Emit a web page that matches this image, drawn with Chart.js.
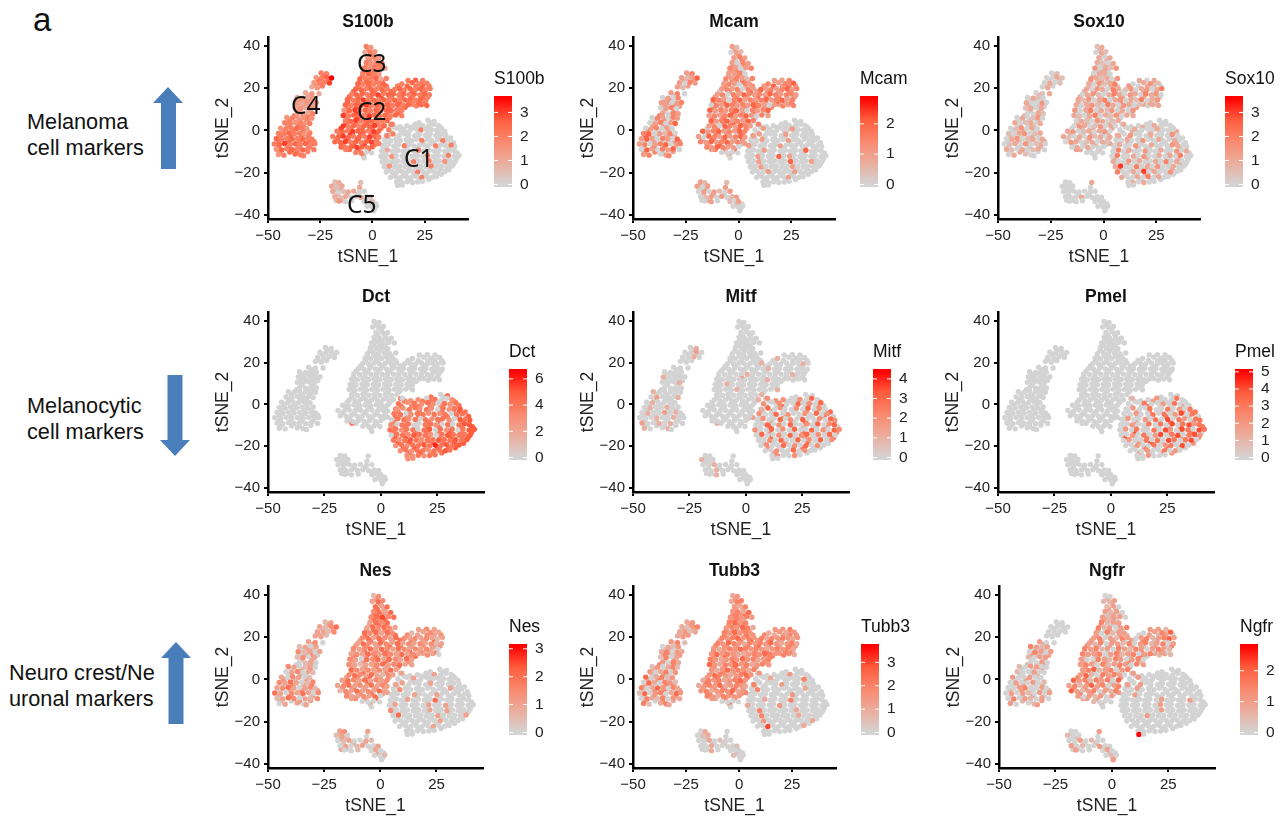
<!DOCTYPE html>
<html>
<head>
<meta charset="utf-8">
<title>tSNE marker panels</title>
<script src="https://cdn.jsdelivr.net/npm/chart.js@4/dist/chart.umd.js"></script>
<style>
  html, body { margin: 0; padding: 0; background: #fff; }
  #page { position: relative; width: 1280px; height: 821px; overflow: hidden; font-family: "Liberation Sans", sans-serif; color: #111; }
  #page canvas { position: absolute; }
  .note { position: absolute; font-size: 21.7px; line-height: 26px; white-space: nowrap; }
  .tag { position: absolute; font-family: "Noto Sans", sans-serif; font-size: 24.5px; line-height: 26px; color: #111; }
  #arrows { position: absolute; left: 0; top: 0; }
</style>
</head>
<body>
<div id="page">
  <svg id="arrows" width="200" height="821">
    <polygon fill="#4a7ebb" points="168,87 183,103 176,103 176,169 161,169 161,103 153,103"/>
    <polygon fill="#4a7ebb" points="175,456 190,440 182.5,440 182.5,375 167.5,375 167.5,440 160,440"/>
    <polygon fill="#4a7ebb" points="176,642 191,658 183.5,658 183.5,724 168.5,724 168.5,658 161,658"/>
  </svg>
  <div class="note" style="left:33px;top:0;font-size:33px;line-height:40px">a</div>
  <div class="note" style="left:27px;top:109px">Melanoma<br>cell markers</div>
  <div class="note" style="left:27px;top:393px">Melanocytic<br>cell markers</div>
  <div class="note" style="left:9px;top:660px">Neuro crest/Ne<br>uronal markers</div>
</div>
<script>
"use strict";

/* tSNE coordinates, one list per cluster (C3 sits on top of C2) */
var c1Points = [[26.5,4.8],[29.5,4.2],
[8.8,2.8],[16.5,2.2],[20.3,3],[24,2.4],[26.8,2.1],[29.2,2.9],[31.5,2.3],
[7.8,0.3],[11.7,1],[14.8,0.6],[18,0.1],[20.6,0.9],[23.2,0.2],[25.4,0.7],[28.2,0.4],[30.6,0.1],[33.2,0.8],
[6.6,-2.2],[9.8,-1.7],[12.7,-2.4],[15.2,-1.6],[17.3,-2.1],[20.2,-2.5],[22.4,-1.8],[25.2,-2.3],[27.6,-1.7],[30.3,-2.4],[32.6,-1.9],[35.1,-2.3],
[5.8,-4.4],[8.7,-4.9],[11.2,-4.2],[13.4,-4.8],[16.2,-4.3],[18.7,-4.9],[21.1,-4.2],[23.6,-4.7],[26.2,-4.3],[28.4,-4.8],[31.2,-4.2],[33.6,-4.9],[36.2,-4.5],
[4.8,-7.1],[7.6,-6.7],[10.2,-7.3],[12.4,-6.8],[15.2,-7.2],[17.6,-6.7],[19.8,-7.3],[22.6,-6.9],[25.2,-7.2],[27.4,-6.7],[30.2,-7.3],[32.6,-6.8],[35.1,-7.2],[37.6,-6.9],
[4.4,-9.7],[7.2,-9.3],[9.4,-9.8],[12.2,-9.4],[14.6,-9.8],[16.9,-9.3],[19.7,-9.7],[22.1,-9.4],[24.4,-9.8],[27.2,-9.3],[29.6,-9.7],[31.9,-9.4],[34.6,-9.8],[37.1,-9.3],[39.2,-9.7],
[4,-12.2],[6.6,-11.8],[9.2,-12.3],[11.4,-11.9],[14.2,-12.2],[16.4,-11.8],[19.1,-12.3],[21.6,-11.9],[24.2,-12.2],[26.4,-11.8],[29.1,-12.3],[31.6,-11.9],[34.2,-12.2],[36.4,-11.8],[39.1,-12.3],[41.4,-11.9],
[4.6,-14.7],[7.1,-14.3],[9.6,-14.8],[12.1,-14.4],[14.6,-14.7],[17.1,-14.3],[19.6,-14.8],[22.1,-14.4],[24.6,-14.7],[27.1,-14.3],[29.6,-14.8],[32.1,-14.4],[34.6,-14.7],[37.1,-14.3],[39.5,-14.7],
[5.6,-17.2],[8.1,-16.8],[10.6,-17.3],[13.1,-16.9],[15.6,-17.2],[18.1,-16.8],[20.6,-17.3],[23.1,-16.9],[25.6,-17.2],[28.1,-16.8],[30.6,-17.3],[33.1,-16.9],[35.6,-17.2],[38.1,-16.8],
[6.6,-19.7],[9.1,-19.3],[11.6,-19.8],[14.1,-19.4],[16.6,-19.7],[19.1,-19.3],[21.6,-19.8],[24.1,-19.4],[26.6,-19.7],[29.1,-19.3],[31.6,-19.8],[34.6,-19.4],
[8.6,-22.2],[11.1,-21.8],[13.6,-22.3],[16.1,-21.9],[18.6,-22.2],[21.1,-21.8],[23.6,-22.3],[26.1,-21.9],[28.6,-22.2],[30.6,-21.8],
[11.6,-24.4],[14.1,-24.7],[16.6,-24.3],[19.1,-24.6],[21.6,-24.4],[24,-24.1],
[12,-26],[14.2,-25.8]];

var c2Points = [[-12.8,-9],[-2,12.8],[3,-6.2],[7,-2.5],[9.5,3],[14,7],
[-3,39.7],[-0.8,39.2],
[-3.6,37],[-1,36.8],[1.1,37.3],
[-2.2,34.4],[0.6,34.8],[3,34.3],
[-3,32.2],[-0.6,31.8],[2.1,32.1],[4.6,31.7],
[-4.1,29.4],[-1.4,29.8],[1,29.3],[3.6,29.7],[6,29.4],
[-4.6,27.2],[-2,26.8],[0.6,27.1],[3.1,26.7],
[-6,24.3],[-3.4,24.8],[-1.1,24.4],[1.6,24.7],[4,24.3],[6.6,24.6],
[-7,22.1],[-4.6,21.8],[-2.1,22.3],[0.4,21.9],[3.1,22.2],[5.4,21.8],[14,22],[19,22.6],[22.2,22.1],[26,22.4],
[-8,19.6],[-5.4,19.3],[-3,19.8],[-0.6,19.4],[2,19.7],[4.6,19.3],[7,19.8],[10.6,19.4],[13,19.7],[15.4,19.3],[18,19.8],[20.6,19.4],[23,19.7],[25.4,19.3],[27.6,19.8],
[-10,17.1],[-7.6,16.8],[-5,17.3],[-2.4,16.9],[0,17.2],[2.6,16.8],[5,17.3],[7.6,16.9],[10,17.2],[12.6,16.8],[15,17.3],[17.6,16.9],[20,17.2],[22.6,16.8],[25,17.3],[27.2,16.9],
[-12,14.6],[-9.4,14.3],[-7,14.8],[-4.4,14.4],[-2,14.7],[0.6,14.3],[3,14.8],[5.6,14.4],[8,14.7],[10.6,14.3],[13,14.8],[15.6,14.4],[18,14.7],[20.6,14.3],[23,14.8],[25.6,14.4],
[-13,12.1],[-10.4,11.8],[-8,12.3],[-5.4,11.9],[-3,12.2],[-0.4,11.8],[2,12.3],[4.6,11.9],[7,12.2],[9.6,11.8],[12,12.3],[14.6,11.9],[17,12.2],[26,11.8],
[-13.6,9.6],[-11,9.3],[-8.4,9.8],[-6,9.4],[-3.4,9.7],[-1,9.3],[1.6,9.8],[4,9.4],[6.6,9.7],[9,9.3],[11.6,9.8],[14,9.4],
[-14,7.1],[-11.4,6.8],[-9,7.3],[-6.4,6.9],[-4,7.2],[-1.4,6.8],[1,7.3],[3.6,6.9],[6,7.2],[8.6,6.8],[11,7.3],
[-13,4.6],[-10.4,4.3],[-8,4.8],[-5.4,4.4],[-3,4.7],[-0.4,4.3],[2,4.8],[4.6,4.4],[7,4.7],
[-14,2.1],[-11.4,1.8],[-9,2.3],[-6.4,1.9],[-4,2.2],[-1.4,1.8],[1,2.3],[3.6,1.9],[5.6,2.2],
[-17,-0.4],[-14.4,-0.7],[-12,-0.2],[-9.4,-0.6],[-7,-0.3],[-4.4,-0.7],[-2,-0.2],[0.6,-0.6],[3,-0.3],
[-19,-2.9],[-16.4,-3.2],[-14,-2.7],[-11.4,-3.1],[-9,-2.8],[-6.4,-3.2],[-4,-2.7],[-1.4,-3.1],[1,-2.8],[3,-3.2],
[-18,-5.4],[-15.4,-5.7],[-13,-5.2],[-10.4,-5.6],[-8,-5.3],[-5.4,-5.7],[-3,-5.2],[-0.4,-5.6],[1.8,-5.3],
[-15,-7.9],[-12.4,-8.2],[-10,-7.7],[-7.4,-8.1],[-5,-7.8],[-2.4,-8.2],[0,-7.7],
[-8,-10.4],[-5.4,-10.7],[-3,-10.2],[-0.4,-10.6],
[-4,-13]];

var c4Points = [[-24.6,27.2],[-22,26.8],
[-27,25],[-24.4,24.7],[-22,25.2],[-19.6,24.8],
[-28,22.6],[-25.4,22.3],[-23,22.8],[-20.6,22.4],
[-29,20.6],[-26.4,20.2],
[-25.6,17.4],[-32,17.8],[-29,17.4],
[-36,15.6],[-33.4,15.3],[-31,15.8],[-28.6,15.4],
[-36.6,13.1],[-34,12.8],[-31.4,13.3],[-29,12.9],[-27,13.2],
[-37,10.6],[-34.4,10.3],[-32,10.8],[-29.4,10.4],
[-36,8.1],[-33.4,7.8],[-31,8.3],[-28.6,7.9],
[-41,6.1],[-38.4,5.8],[-36,6.3],[-33.4,5.9],[-31,6.2],[-29,5.8],
[-42,3.6],[-39.4,3.3],[-37,3.8],[-34.4,3.4],[-32,3.7],[-30,3.3],
[-44,1.1],[-41.4,0.8],[-39,1.3],[-36.4,0.9],[-34,1.2],[-31.4,0.8],
[-45,-1.4],[-42.4,-1.7],[-40,-1.2],[-37.4,-1.6],[-35,-1.3],[-32.4,-1.7],[-30,-1.2],
[-46,-3.9],[-43.4,-4.2],[-41,-3.7],[-38.4,-4.1],[-36,-3.8],[-33.4,-4.2],[-31,-3.7],[-29,-4.1],
[-47,-6.4],[-44.4,-6.7],[-42,-6.2],[-39.4,-6.6],[-37,-6.3],[-34.4,-6.7],[-32,-6.2],[-29.4,-6.6],[-27.6,-6.3],
[-46,-8.9],[-43.4,-9.2],[-41,-8.7],[-38.4,-9.1],[-36,-8.8],[-33.4,-9.2],[-31,-8.7],[-28,-9.1],
[-45,-11.4],[-42.4,-11.7],[-37,-11.2],[-34.4,-11.6],[-33,-12]];

var c5Points = [[-18,-24.4],[-16,-24.7],
[-19.6,-26.4],[-17,-26.7],[-14.6,-26.3],[-5.6,-24.6],
[-19,-28.9],[-16.4,-29.2],[-14,-28.8],[-11.6,-29.1],[-9,-28.7],[-6.4,-29.2],[-4,-28.8],
[-18,-31.4],[-15.4,-31.7],[-13,-31.3],[-10.4,-31.6],[-8,-31.2],[-5.4,-31.7],[-3,-31.3],[-1,-31.6],
[-16,-33.4],[-13,-33.7],[-10,-33.3],[-4,-33.6],[-2,-33.2],[0,-33.6],
[-2.6,-35.9],[0,-36.2],[2,-35.8],
[0.6,-38]];

/* the cells packed in between, drawn underneath */
var c1Under = [[22.2,3.6],[27.9,3.5],[10.4,1.6],[13.2,1.8],[18.6,1.5],[22,1.4],[27,1.2],[32.4,1.7],
[9,-0.9],[13.6,-0.7],[16.4,-1],[21.8,-0.8],[26.6,-1],[31.6,-0.7],[34.6,-0.5],
[7.6,-3.4],[12,-3.3],[17,-3.5],[22,-3.2],[27,-3.4],[32,-3.3],[34.8,-3.6],[37.4,-3.6],
[6.4,-5.9],[11.6,-5.7],[16.8,-6],[24.4,-5.8],[29.4,-5.9],[34.6,-5.7],[38.8,-5.8],
[6,-8.4],[11.2,-8.2],[16.4,-8.5],[21.2,-8.3],[26.4,-8.4],[31.2,-8.2],[36.4,-8.5],[39.4,-7.6],
[5.6,-10.9],[10.6,-10.7],[15.8,-11],[20.8,-10.8],[25.8,-10.9],[30.8,-10.7],[35.8,-11],[40.6,-10.7],
[5.4,-13.4],[10.4,-13.2],[15.4,-13.5],[20.4,-13.3],[25.4,-13.4],[30.4,-13.2],[35.4,-13.5],[40.2,-13.4],
[6,-15.9],[11,-15.7],[16,-16],[21,-15.8],[26,-15.9],[31,-15.7],[36,-16],[38.8,-15.8],
[7.6,-18.4],[12.6,-18.2],[17.6,-18.5],[22.6,-18.3],[27.6,-18.4],[32.6,-18.2],[36.6,-18.6],
[10,-20.9],[15,-20.7],[20,-21],[25,-20.8],[30,-20.9],[33,-20.7],
[12.6,-23.2],[17.6,-23],[22.6,-23.3],[27,-23.2]];

var c2Under = [[19,12.4],[21,11.6],[23.4,12.2],[25,13],[17,23.6],[20.6,23.8],[24,23.6],
[-1.8,38],[0,35.8],[-1.4,33.2],[1.6,33.4],[-2.8,30.8],[0.4,30.6],[2.8,30.9],[-3,28.2],[-0.6,28.4],[2,28.1],
[-4.8,25.8],[-0.6,25.7],[2.4,25.9],[-6,23.2],[-3,23.4],[-0.8,23],[2,23.2],[4.6,23],
[-6.8,20.8],[-1.8,20.9],[3.4,20.7],[6.6,20.9],[12,21],[16.6,21],[20.8,20.9],[24,21.2],[27,21],
[-9,18.4],[-4.4,18.2],[0.8,18.4],[5.6,18.2],[8.8,18.4],[13.8,18.2],[19,18.4],[24,18.2],
[-11,15.9],[-6,15.7],[-1,16],[4,15.7],[9,15.9],[14,15.7],[19,16],[24,15.7],[26.5,15.8],
[-12,13.4],[-7,13.2],[-2,13.5],[3,13.2],[8,13.4],[13,13.2],[18,13.5],[22,13],
[-12,10.9],[-7,10.7],[-2,11],[3,10.7],[8,10.9],[13,10.7],[15.6,11],
[-12.6,8.4],[-7.6,8.2],[-2.6,8.5],[2.4,8.2],[7.4,8.4],[12.4,8.2],
[-12,5.9],[-7,5.7],[-2,6],[3,5.7],[8,5.9],
[-12.6,3.4],[-7.6,3.2],[-2.6,3.5],[2.4,3.2],
[-15,0.9],[-10,0.7],[-5,1],[0,0.7],[4,1],
[-15.6,-1.6],[-10.6,-1.8],[-5.6,-1.5],[-0.6,-1.8],[2,-1.6],
[-17,-4.1],[-12,-4.3],[-7,-4],[-2,-4.3],[2,-4.2],
[-14,-6.6],[-9,-6.8],[-4,-6.5],[1,-6.8],
[-11,-9],[-6.5,-9.2],[-2,-9],[-4.4,-11.6]];

var c4Under = [[-23.4,26],[-25.8,23.8],[-21,23.6],[-27.8,21.4],[-24,21],[-30.4,16.6],[-34.8,14.2],[-32.2,14.4],[-30,14],
[-35.6,11.8],[-33,11.6],[-30.4,11.8],[-28,11.4],[-35,9.4],[-30.4,9.2],[-37.4,7],[-32.4,7],[-29.8,6.8],
[-39.8,4.8],[-35,4.6],[-31.2,4.8],[-40.6,2.2],[-35.6,2.4],[-33,2.1],[-43,0],[-38,-0.2],[-33,0],
[-44,-2.6],[-39,-2.8],[-34,-2.6],[-30.6,-2.8],[-45,-5.2],[-40,-5.4],[-35,-5.2],[-30,-5.4],[-28,-5.2],
[-45,-7.8],[-40,-7.9],[-35,-7.7],[-30,-7.9],[-44.6,-10.4],[-39.6,-10.2],[-36,-10.4],[-31,-10]];

var c5Under = [[-17.6,-28],[-15.4,-28],[-18,-25.8],[-16.6,-30.4],[-12,-30.2],[-7,-30.2],[-3.6,-32.4],[-1,-33],[-1,-35],[1,-37],[-6.2,-27],[-17.4,-33],[-15,-33],[1.6,-34.8]];

/* expression per gene: one list per point list, in the order above (missing = 0) */
var s100b = [
[0,0,2,0,0,0,0,0,0,2,0,0,0,0,2,0,0,0,0,0,2,0,0,0,0,0,0,0,0,0,0,0,0,0,0,0,0,0,2,0,0,0,2,0,0,0,0,0,2,0,0,0,0,0,2,0,0,2,0,1,0,0,0,0,0,2,0,0,0,0,0,0,0,0,0,1.5,0,0,0,0,0,0,2,0,0,0,2,0,0,0,0,0,0,0,0,2,0,0,2,0,0,1.5,0,0,0,1.5,0,0,0,0,0,0,0,2,0,0,0,0,0,0,0,0,0,0,2,0,0,0,0,0,0,0,0,0,0,0,2,0,0,0,0,0,0,0,0,0,0,0],
[2,2,2,2,2,2,2,1.5,1,2,1.5,1.5,2,1.5,2,1.5,2,2,2,1.5,2,2,1,2,2.5,2,1.5,2.5,2,2,2.5,1,2,2.5,2,2.5,2,2,2.5,2,2.5,2,2,2.5,2.5,2,2.5,2,2.5,2,2,2.5,2,2.5,2,2.5,2,2,2,2.5,2.5,2,2.5,3,2,2.5,2.5,2,2.5,2,2.5,2,2.5,2,2.5,2,2.5,3,2,2.5,2,2.5,2,2.5,2,2.5,2.5,2,2.5,2,2.5,2,2.5,2.5,3,2,2.5,2,2.5,2,2.5,2,2.5,2.5,1.5,2.5,3,2,2.5,2,2.5,2,2.5,2.5,2,2,3,2,2.5,2.5,2,3,2.5,2,2.5,2,2.5,2,2.5,3,2,2.5,2.5,2,2,2.5,3,2,2.5,2,2.5,2.5,3,2,2.5,2,2.5,2,3,2.5,2.5,2,3,2.5,2,2.5,3,2.5,2,2.5,2,3,2.5,2,2.5,2.5,3,2,2.5,2,2.5,3,2,2.5,2,2.5,3,2.5,2,2.5,2,2],
[2,2,1.5,2,2.5,3.6,1.5,2,2,3,1,1.5,1,1,1.5,1,1.5,1,1.5,1.5,1,1.5,1,1.5,1,1.5,1,1.5,1,1.5,1,2,1.5,2,1.5,1.5,2,1.5,2,2,1.5,2,1.5,2,1.5,2,2,2.5,2,1.5,2,2,2.5,2,2,1.5,2,2.5,2,2,2.5,2,2.5,2,2,2,2.5,3,2,2.5,2,2.5,2,2,1.5,2.5,2,2.5,2,2.5,2,2,1.5,2,2.5,2,2,2],
[0.5,1,1,0.5,1,0.5,1,0,0.5,1,1,0,0,1,0.5,1,0,0,1,0,0.5,1.5,0,0,0,0,0.5,0,0,0,0],
[],
[2,2,2.5,2,2,2.5,2,2,1.5,2,1.5,2,2,2,2,2,2.5,2,2,2.5,2,2.5,2,2,2.5,2,2.5,2,2.5,2,2.5,2,2.5,2,2.5,2,2.5,2,2.5,2,2.5,2,2.5,2,2.5,3,2,2.5,2,2.5,2,2.5,2,2.5,3,2,2.5,2,2.5,2,2.5,2,2,2.5,2,2.5,2,3,2,2.5,2,2.5,2,3,2,2.5,2,2.5,2,2.5,2,3,2,2.5,2,2.5,2,3,2.5,2,2.5,2,2.5,3,2,2.5,2,2.5,3,2,2.5,2,2.5,2,2.5],
[2,2.5,2,1.5,2,1,1.5,1,1.5,1,1.5,1,1.5,1.5,1,2,1.5,1.5,2,1.5,2,1.5,2,2,1.5,2,2,2,2.5,2,2,2,2.5,2,2.5,2,2,2.5,2,2,2,2.5,2,2],
[0.5,1,0.5,1,0.5,0.5,0,0,0,0,1,0.5,1,0]];

var mcam = [
[0,0,0,0,0,0,0,0,0,0,1,0,0,0,0,1,0,0,0,0,1,0,0,0,0,1,0,0,0,0,0,0,0,1,0,0,0,0,1,0,0,0,0,0,1,0,0,0,0,0,1,0,0,0,0,0,0,0,0,0,0,1,0,0,0,0,0,0,0,2,0,0,0,0,0,1,0,0,0,2,0,1,0,0,0,0,0,0,0,0,0,1,0,0,0,0,0,2,0,0,0,1,0,0,0,0,1,0,0,0,0,0,1,0,0,0,0,0,0,0,0,1,0,0,0,0,1,0,0,0,0,0,0,0,0,0,1,0,0,0,0,0,0,0,0,0,0,0],
[1,1.5,1,1,1.5,1,1,0.5,0,1,0.5,1,1.5,1,1,0,1.5,1,1.5,1,0,1,1.5,1,1,1.5,0,1.5,1,1.5,1,0.5,1.5,1,1.5,1,0,1.5,1,1.5,1,1.5,2,1,1.5,1,1.5,0,1.5,1,2,1,1.5,1,1.5,2,1,1.5,1,1.5,0,1.5,1,2,1.5,1,1.5,1,2,1.5,1,1.5,1.5,1,2,1.5,1,0,1.5,2,1,1.5,1,1.5,2,1,1.5,2,1,1.5,0,1.5,1,2,1.5,1,1.5,1,2,1.5,1,0,1,1.5,2,1,1.5,1,1.5,2,1,0,1.5,1,1.5,2,1,1.5,1,1.5,2,1,1.5,2,1,0,1.5,2,1,1.5,2,1,1.5,1,2,1.5,1,1.5,0,2,1.5,1,2,1.5,1,2,1,1.5,2,1,1.5,1,2,1.5,1,0,2,1.5,1,2,1,1.5,2,1,1.5,1,2,1,1.5,2,1,1.5,1,1.5,1,2,1.5,1,1],
[1,1.5,1,0.5,1,2,1,0,1.5,1,1,0.5,0,1,1.5,0,1,0,1.5,1,1,0,1,1.5,0,1,1.5,0,1,0,1.5,1,0,1.5,1,0,1.5,1,0,1,1.5,0,1,2,0,1,1.5,0,1,0,1.5,2,0,1,0.5,1.5,0,1,2,1,0,1.5,1,0,2,1,1.5,0,1,1.5,2,0,1,1.5,0,2,1,0,1.5,1,2,0,1,1.5,0,1,1.5],
[1,0.5,1,0,1,0.5,0,1,0,1,0.5,0,1,0,0.5,1,0,1,0,0.5,1,0,1,0,0.5,0,1,0,0,0,0],
[],
[1,1.5,1,1.5,1,1,1.5,1,1,0,1.5,1,0,1.5,1,1.5,0,1,1.5,1,0,1.5,1,2,1,1.5,0,1,1.5,1,2,1,1.5,1,0,1.5,1,2,1,1.5,1,1.5,1,0,1.5,1,2,1,1.5,0,1,1.5,2,1,0,1.5,1,2,1,1.5,0,1,1.5,2,1,1.5,0,1,2,1,1.5,0,1,2,1.5,1,0,1,1.5,2,1,0,1.5,1,2,1,0,1.5,1,0,1.5,1,2,1,0,1.5,1,2,1,0,1.5,1,2,1,0,1,1.5,1],
[0.5,1,1,0,1,0,1,1.5,0,1,0,1.5,1,0,1,1.5,0,1,0,1.5,0,1,1,0,1.5,0,1,2,0,1,1.5,0,1,0,1.5,1,0,2,1,0,1,1.5,0,1],
[0,1,0.5,0,1,0,0.5,0,0.5,0,1,0,1,0]];

var sox10 = [
[0,0,0,0,0,1,0,0,0,0,0,1,0,0,0,1,0,0,0,1,0,1.5,0,0,0,1,0,0,0,1.5,0,0,0,1,0,0,1.5,0,0,1,0,0,1,0,0,1,0,0,1.5,0,0,1,0,0,0,1.5,1,0,0,2,0,1,0,0,1.5,0,0,1,0,0,1.5,0,1,0,2,0,0,1,0,1.5,0,0,1,0,1,0,2,0,0,1,0,0,1.5,0,1,0,0,1,0,2,0,1,0,0,1,3,0,0,2,0,1,0,1.5,0,0,1,0,0,2,0,0,1,0,3,0,1,0,0,1.5,0,1,0,0,1,0,2,0,1,0,0,0,1,0,1,0,0,0],
[1.5,1,1,1,1,1,0.5,1,0,1,0.5,1,0,1,1,0.5,0,1,1.5,0,1,0.5,1.5,0,1,1,0,1.5,1,0.5,1,0,1.5,1,0,1.5,0.5,1,2,0,1,1.5,0.5,1,0,1.5,1,0,2,1,0.5,1.5,0,1,1.5,0,1,2,0,1,1.5,0.5,0,1,2,1,0,1.5,1,0,2,1,1.5,0,1,0.5,1.5,0,1,2,0,1,1.5,0,1,0.5,2,0,1,1.5,1,0,1,1.5,0.5,0,2,1,0,1.5,1,0,0.5,1,1.5,0,1,2,0,1,0.5,1.5,0,1,0,1.5,1,0.5,0,1,2,0,1,0.5,1.5,0,1,0,1,0.5,0,1.5,1,0,0.5,1,0,1.5,1,0,0.5,1.5,0,1,0,1,1.5,0,0.5,1,0,1,1.5,0,1,0.5,0,1,0,1.5,0.5,1,0,1,0,1.5,1,0,0.5,1,0,1,0.5,0,1,0,1],
[0,0.5,0,0,1,0.5,0,1,0,0.5,0,1,1,0,0.5,0,1,0.5,0,1,0,0,1.5,0,0.5,1,0,1,0,0,1,0.5,0,1,0,0.5,1.5,0,1,0,0.5,1,0,1,0,0.5,1.5,0,1,0,0.5,0,1,1.5,0,0.5,1,0,1,1.5,0,0.5,1,0,1,0,0.5,1,0,1.5,0,0.5,1,0,1,0.5,0,1,0,0.5,1,0,0,1,0.5,0,0],
[0,0,0,0,0,1,0,0,0,0,0,0,0,0,0,0,1,0,0,0,0,0,0,0,0,0,0,0,0,0,0],
[0,0,0,0,1,0,0,0,0,1,0,0,0,0,1,0,0,0,1,0,0,0,0,0,1,0,0,0,1,0,0,0,1,0,0,0,1,0,0,1,0,0,0,1,0,0,1,0,0,1,0,0,1,0,0,1,0,1,0,0,1,0,1,0,0,1,0,1,0,0,0,1,0,0,0,0,0,0,0],
[1,0,1,0.5,1,0,1,0.5,1,0,1,0,1,0.5,0,1,0,1,0.5,0,1,0,1.5,0,1,0.5,0,1,0,1.5,0,1,0.5,0,1,1.5,0,1,0,0.5,1,0,1,0,0.5,1,1.5,0,1,0,0.5,1,0,1,0,1.5,0.5,0,1,0,1,0.5,0,1,0,1.5,0,1,0.5,0,1,0,0.5,1,0,1,0,1,0.5,0,1,0,0.5,1,0,1,0.5,0,1,0,1,0,0.5,1,0,1,0,0.5,1,0,1,0,0.5,0,1,0,1],
[0.5,0,0,0.5,0,1,0,0.5,0,1,0,0.5,0,1,0,0.5,0,1,0,0.5,1,0,0,0.5,0,1,0,0.5,0,1,0,0,1,0.5,0,1,0,0,1,0.5,0,1,0,0],
[]];

var dct = [
[0,4,4,3,0,4,0,0,3,4,3,4,3,4,3,0,4,3,4,4,3,4,4,3,4,3,0,4,3,4,5,4,4,0,3,4,4,3,4,3,4,0,4,4,0,4,4,3,4,0,4,3,4,4,3,0,5,4,3,0,4,4,0,0,4,4,3,0,4,0,4,5,5,4,4,3,4,4,0,4,5,0,4,3,4,0,4,5,5,0,4,4,3,5,4,4,3,0,4,5,4,4,4,5,4,3,4,5,4,3,4,4,5,4,4,5,4,5,3,4,3,4,4,5,4,6,4,5,4,5,3,4,3,4,4,3,4,4,5,4,3,3,4,3,4,4,3,3],
[4,0,0,3,0,0],[],[],
[4,0,4,3,4,4,0,3,4,3,4,4,3,0,4,4,3,4,0,4,4,5,4,4,3,4,0,4,0,5,4,3,0,4,4,0,4,5,3,4,0,4,4,0,4,5,4,3,4,4,4,5,4,5,5,5,3,4,4,5,4,4,5,5,3,4,4,5,5,4,5,3,4,4,5,4,5,3,4,4,4],
[],[],[]];

var mitf = [
[0,0,0,2,0,2,0,3,0,2,0,2,0,0,3,0,2,0,3,0,3,0,2,0,0,2,0,3,0,2,0,2,0,0,3,0,2,0,0,2,0,3,0,2,0,2,0,0,3,0,2,0,3,0,0,2,0,3,0,0,3,0,2,0,3,0,0,2,0,3,0,2,3,2,0,0,3,0,2,0,3,0,0,3,0,2,0,3,2,0,3,0,0,2,0,3,0,2,3,0,2,0,3,0,0,0,2,0,3,0,0,3,0,2,0,3,0,2,0,2,0,0,3,0,2,0,3,0,2,0,0,0,2,0,0,3,0,2,0,0,0,2,0,0,2,0,0,0],
[1,2,1.5,1,2,1,0,0,0,0,0,0,0,0,0,0,0,0,0,0,0,0,0,0,0,0,0,0,0,0,0,0,0,0,0,0,0,0,0,1,0,0,0,0,0,0,0,0,0,1,0,0,0,0,0,0,1,0,0,0,0,0,0,0,0,0,1,0,0,0,0,0,0,0,0,0,0,0,0,1,0,0,0,0,0,0,0,1,0,0,0,0,0,0,0,0,0,0,0,1,0,0,0,0,0,0,1,0,0,0,0,0,0,0,0,0,0,0,0,0,1,0,0,0,0,0,0,0,0,0,0,0,0,0,0,1,0,0,0,0,0,0,0,0,1,0,0,0,0,0,0,0,0,0,0,0,0,0,0,0,0,0,0,0,0,0,0,0,0],
[0,1,0,0,1.5,0,0,0,1,0,0,0,0,0,0,0,0,0,0,1,0,0,0,0,0,0,0,1,0,0,0,0,1,0,0,0,0,0,0,1.5,0,0,0,1,0,1,0,0,0,0,0,1,0,0,1,0,0,0,1,0,0,1.5,0,1,0,0,0,0,1,0,0,1,0,0,1.5,0,0,1,0,1,0,0,1,0,0,1,0,0],
[0,0,1,0,0,0,0,0,1,0,0,0,0,0,0,1,0,0,0,0,0,0,1,0,0,0,0,0,0,0,0],
[0,0,0,2,0,0,2,0,0,0,3,0,0,2,0,0,3,0,0,2,0,0,3,0,0,2,0,0,3,0,0,2,0,0,3,0,0,2,0,3,0,0,2,0,3,0,0,2,0,0,3,0,0,2,0,3,0,0,2,0,0,3,0,0,2,0,3,0,0,2,0,0,3,0,0,2,0,0,0,2,0],
[],[],[]];

var pmel = [
[0,0,0,0,2,0,0,3,0,0,0,3,0,0,2,0,3,0,0,0,2,0,0,3,0,0,3,0,2,0,3,0,0,2,0,0,3,0,3,0,2,4,0,3,0,2,0,0,2,0,3,0,4,0,3,2,0,3,0,0,2,0,0,3,0,3,0,4,0,3,4,2,3,0,2,0,3,0,0,3,0,4,2,0,4,3,0,4,3,0,0,2,0,3,0,2,4,0,3,4,0,3,4,2,0,2,0,0,3,0,3,0,4,3,0,3,4,0,0,0,2,0,0,3,0,2,3,0,4,0,0,0,0,2,0,0,3,0,2,0,0,0,2,0,0,0,0,0],
[0,0,0,0,1,0],[],[],
[0,0,0,0,2,0,0,0,0,0,3,0,0,2,0,0,0,3,0,0,2,0,3,0,0,0,3,0,2,0,0,2,0,0,3,0,2,3,0,0,2,0,0,3,0,3,0,4,0,0,2,0,3,0,4,0,3,0,0,2,0,3,0,2,4,0,0,0,2,0,3,0,3,0,0,2,0,0,2,0,0],
[],[],[]];

var nes = [
[0,0,0,0,0,1,0,0,0,0,0,1,0,0,0,0,0,0,0,0,1,0,0,0,0,1,0,0,0,0,0,0,1.5,0,0,0,0,0,0,0,0,1,0,0,0,0,0,0,1,0,0,0,1,0,0,0,0,0,0,0,0,1,0,0,0,0,2,0,0,0,0,0,0,0,1,0,0,0,0,0,1,0,0,1,0,0,0,0,0,1.5,0,0,0,0,0,0,1,0,0,1,0,0,0,0,0,2,0,0,0,0,0,0,1,0,0,0,0,1,0,0,0,0,0,0,0,0,1,0,0,0,0,0,0,0,0,0,1,0,0,0,0,0,0,0,0,0],
[1,1.5,1,1,1,1,0.5,1.5,1,2,1.5,2,1,2,1.5,2,1,2,1.5,2,2.5,1.5,2,1,2,1.5,2,1,2,1.5,2,1.5,1,2,1.5,2,1,2,1.5,0.5,1,1.5,1,1.5,2,1,2,1.5,1,2,1.5,1,1.5,1,1.5,1,0.5,1,1,2,1.5,1,2,1.5,1,2,1,1.5,1,1.5,1,1.5,0.5,1,1.5,1,1.5,2,1,2,1.5,1,2,1.5,1,1.5,1,1.5,1,0,1,1.5,1,2,1.5,1,2,1.5,1,2,1,1.5,1,0,1.5,1,0,2,1.5,2,1,2,1.5,1,2,1,1.5,1,0.5,1,1,1.5,2,1,1.5,2,1,2,1.5,1,1.5,1,1.5,1,2,1,1.5,2,1.5,1,2,1,0.5,1.5,1,1,2,1.5,1,2,1,1.5,1,1.5,1,1.5,2,1,1.5,1,2,1,1.5,1,0.5,1.5,1,2,1,1.5,1,2,1,1.5,1,1,1.5,1,2],
[0.5,1,1,0.5,1.5,2,1,1,0.5,1.5,1,1,0,1,1.5,0.5,1,0,1,1.5,0.5,1,0,1,0.5,1.5,0,1,0,0.5,1,0,1.5,1,0,0.5,1,0,0,1,1.5,0,1,0.5,1,0,1.5,1,0,0.5,1.5,1,2,1,0,0.5,1.5,1,1.5,2,1,0,1,1.5,0.5,2,1,0,1.5,1,2,1,0,1.5,0.5,1,2,1.5,0,1,0.5,1.5,0,1,1,0,1],
[1,1.5,0.5,1,0,1,0,0.5,1,0,0,1,0.5,0,1,0,0.5,1,0,0,1,0,0,0.5,0,1,0,0,0,0.5,0],
[],
[1,1.5,1,1.5,1,1.5,1,1,1.5,2,1,2,1.5,1,2,1.5,2,1,2,1,1.5,2,1,1.5,1,2,1.5,1,2,1.5,1,1.5,1,1.5,1,2,1.5,1,2,1.5,1,2,1,1.5,1,2,1.5,1,1.5,1,1.5,1,2,1,1.5,1,2,1.5,1,1.5,1,2,1.5,1,1.5,2,1,1.5,1,2,1,1.5,1,1.5,2,1,1.5,1,2,1,1.5,1,1.5,2,1,0.5,1.5,1,2,1,1.5,1,2,1,1.5,1,1,1.5,2,1,1.5,1,2,1,1.5,1,1.5,1],
[1,0.5,1,1,0.5,1,0,1,0.5,0,1,1.5,0,0.5,1,0,1,0.5,0,1,1.5,0,1,0,1.5,0.5,1,0,1.5,1,2,0,1,1.5,0,1,0.5,1.5,0,1,1,0,1.5,1],
[1,0.5,1,0,1,0,0.5,0,1,0,0,1,0,0]];

var tubb3 = [
[0,0,0,0,0,1.5,0,0,0,0,0,1,0,0,0,0,0,2,0,0,0,0,0,0,1.5,0,0,0,0,0,0,0,2,0,0,0,0,0,0,0,0,1,0,0,0,0,0,0,0,0,0,0,1.5,0,0,0,0,0,0,0,0,1,0,0,0,0,2,0,0,0,0,0,0,1,0,0,0,0,0,1.5,0,0,0,0,0,0,0,0,0,0,0,2,0,0,0,0,0,0,1,0,0,0,0,0,0,0,2,0,0,0,0,0,0,1,0,0,0,0,0,0,1.5,0,0,0,0,0,0,0,0,1,0,0,3,0,0,0,0,0,0,1,0,0,0,0,0,0,0,0],
[1.5,1.5,2,2,1.5,1.5,1,1.5,1,2,2,1.5,1,2,1.5,2,1,2.5,1.5,2,1.5,2,1.5,2,2.5,1.5,2,1.5,2,1.5,2.5,2,1,2,1.5,2.5,1.5,2,1.5,1,1.5,1,1.5,2,1.5,2,2.5,1.5,2,1.5,2,1,2,1.5,2,1.5,1,1.5,2,1.5,2.5,2,1.5,1,2,1.5,2,1.5,2.5,1.5,1,1.5,2,1,1.5,1,1.5,2,1.5,2.5,2,1.5,2,1.5,1,1.5,2,1.5,2,1,1.5,2.5,1.5,2,1.5,1,1,1.5,2,1.5,2.5,2,1.5,1,2,1.5,1,1.5,2,1.5,2.5,1.5,2,1,1.5,2,2.5,1.5,1,2,1.5,2.5,1.5,2,1,1.5,2,1.5,1,1.5,2.5,1.5,2,1.5,1,2,1.5,2.5,2,1.5,1,1.5,2,2.5,1.5,1,2,1.5,2,1,1.5,2,2.5,1.5,1,1.5,2,1.5,2.5,1,1.5,2,1.5,1,1.5,2,1,1.5,2,1.5,2.5,1,1.5,2,1.5,1,2,1.5,1.5,1.5],
[1,1.5,1,0.5,1.5,2,1,1.5,0.5,1,1,1.5,0.5,1.5,2,0,1,0.5,1.5,1,2,0,1.5,1,0.5,2,0,1,1.5,0,2,1,0.5,1.5,0,1,2,0.5,1.5,0,1,2,0,1.5,2.5,0,1,2,0.5,1.5,0,2.5,1,0,2,1.5,0.5,2,0,1,2.5,1.5,0,2,1,0.5,2.5,0,1.5,2,0,1,2.5,1.5,0,2,1,0.5,2,0,1.5,1,2,0.5,1,2,1],
[0,1,0,0.5,1,0,0,0,1,0,0.5,0,0,0,0,1,0,0,0,0,0.5,0,1,0,0,0,0,0.5,0,0,0],
[],
[1.5,2,1.5,2,1.5,1.5,2,1.5,2,1.5,1,2,1.5,2.5,1.5,2,1,1.5,2,1.5,2,1.5,1,2,1.5,2,1.5,2.5,1.5,2,1,1.5,2,1.5,1,1.5,2,2.5,1.5,2,1.5,1,2,1.5,1.5,2,2.5,1.5,1,2,1.5,2,1.5,2.5,1,1.5,2,1.5,2,1.5,2.5,1.5,1,2,1.5,2,1.5,1.5,2.5,1.5,1,1.5,2,1.5,2.5,2,1.5,1,2,1.5,2.5,1.5,2,1,1.5,2,2.5,1.5,1,2,1.5,1.5,2,2.5,1,1.5,2,1.5,2.5,1.5,1,2,1.5,2.5,1.5,2,1.5,1,1.5,2,1.5,1,1.5],
[1.5,1,1,0.5,1.5,0,1,1.5,0,2,1,0.5,1.5,0,1,2,0,1.5,1,0,2,0.5,1.5,0,1,2,0.5,1.5,0,2,1,0,1.5,2,0,1,0.5,2,0,1.5,1,0,2,1],
[0,0.5,0,0,0,1,0,0,0.5,0,0,0,0,0]];

var ngfr = [
[0,0,0,0,0,0,0,0,0,0,1,0,0,0,0,0,0,0,0,0,0,1,0,0,0,0,0,0,0,0,0,0,0,1,0,0,0,0,0,0,0,0,0,0,0,0,1,0,0,0,0,0,0,0,0,0,0,0,0,0,0,0,0,0,0,1,0,0,0,0,1,0,0,0,0,0,0,0,0,0,1,0,0,0,0,0,0,0,0,0,0,0,0,0,0,0,1,0,0,0,0,0,0,0,0,0,0,0,1,0,0,0,0,0,0,0,0,0,0,0,0,0,0,0,0,0,0,0,0,0,0,0,0,0,0,0,0,0,0,0,0,0,0,0,0,0,2.8,0],
[1,0.5,1,1,1,1,0,0,0.5,0.5,1,0.5,1,0,1,0.5,1,0,1,0.5,1,1,0,1.5,0.5,1,1,1.5,0.5,1,0,1,1.5,1,0,1.5,0.5,1,1,0,1,1.5,2,1,1.5,0,1,0.5,1.5,1,0,1,1.5,0.5,1,1.5,2,1,1,0.5,1.5,0,1,1,0.5,1.5,0,1,1.5,0.5,1,1.5,0,1,1.5,1,1.5,0.5,1,0,1.5,1,0.5,1.5,1,0,1,1.5,1,0.5,1.5,1,1,1.5,0,1,1.5,0.5,1,1.5,0,1,1.5,0.5,1,0,0,1.5,1,0.5,1.5,1,0,1,1.5,0,1,1.5,1,0,1.5,0.5,1,1.5,1,0,1.5,1,1.5,2,0.5,1,1.5,0,1,1.5,1,2,0.5,0,1.5,1,1.5,1,0,2,1,1.5,0.5,1.5,1,1.5,0,2,1,1.5,0.5,1,2,1,1.5,0,1,1.5,2,1,0.5,1,1.5,0,1,0.5,1.5,1,0,1,0.5,1,0,1,0.5],
[0,0,0,0,0,0,0,0,0,0,0,0,0,1,0,1.5,1,0.5,1,0,1.5,1,0,1,0.5,0,1,1,0,0,1,0,0.5,0,1,1,0,0,0.5,0,0,1,0,0,1,0,0,1,0,0,0,1,0,0,1,0,0.5,0,0,1,1.5,0,0,1,0,0,1,0,1,0.5,0,1,0,1,0,1.5,0,1,0.5,0,1,0,1,0,0,0.5,1],
[0,0,0.5,0,0,1,0,0,1,0,0.5,0,0,1,0,0.5,0,0,1,0,0,1,0,0,0,1,0,0,0.5,0,1],
[],
[1,0.5,1,0,1,1,0.5,0.5,0,1,0.5,0,1,0,1,0.5,0,1,0,1,0.5,0,1,0,0.5,1,0,1,0.5,0,1,0.5,1,0,1,0.5,1,0,1,1.5,0.5,0,1,0.5,1,0,1,0.5,1,0,1.5,0.5,1,0,1,0.5,1.5,0,1,0.5,1,0,1,0.5,1.5,0,1,0.5,1,0,1.5,0.5,1,0,1,1.5,0.5,1,0,1,0.5,1.5,0,1,0.5,1,0,1.5,1,0.5,0,1,1.5,0.5,1,0,1.5,1,0.5,0,1,1,0,0.5,1,0,0.5,1],
[0,0,0,0,0,1,0,0,0.5,1,0,0,1,0,0,0.5,0,1,0,0,1,0,0,0.5,0,1,0,0,1,0,0,0.5,1,0,0,0.5,0,0,1,0,0,0.5,0,1],
[0,0.5,0,0,0,1,0,0,0.5,0,0,0,0,0]];

var geneNames = ["S100b", "Mcam", "Sox10", "Dct", "Mitf", "Pmel", "Nes", "Tubb3", "Ngfr"];
var geneValues = [s100b, mcam, sox10, dct, mitf, pmel, nes, tubb3, ngfr];
var colorbarMax = [3.6, 2.85, 3.6, 6.6, 4.4, 5.05, 3.1, 3.7, 2.8];
var colorbarTicks = [[0,1,2,3], [0,1,2], [0,1,2,3], [0,2,4,6], [0,1,2,3,4], [0,1,2,3,4,5], [0,1,2,3], [0,1,2,3], [0,1,2]];
var xTicks = [-50, -25, 0, 25];
var yTicks = [-40, -20, 0, 20, 40];
var clusterTags = ["C1", "C2", "C3", "C4", "C5"];

/* page layout, pixels */
var plotLeft = [268, 633, 998, 268, 633, 998, 268, 633, 999];
var plotRight = [468, 835, 1200, 484, 849, 1214, 483, 836, 1215];
var plotTop = [37, 37, 37, 312, 312, 312, 586, 586, 586];
var plotHeight = [182, 182, 182, 180, 180, 180, 182, 182, 182];
var barLeft = [494, 860, 1225, 509, 873, 1235, 509, 861, 1240];
var barTop = [96, 96, 96, 369, 369, 369, 644, 644, 644];
var tagLeft = [404, 357, 357, 291, 347];
var tagTop = [145, 98, 50, 92, 191];

/* lightgrey to red, stepped in Lab like the original scale */
var ramp = [[211,211,211], [234,173,157], [249,137,110], [255,93,61], [255,0,0]];

function rampColor(t) {
    t = Math.max(0, Math.min(1, t)) * (ramp.length - 1);
    var i = Math.min(Math.floor(t), ramp.length - 2);
    var f = t - i;
    var c = [0, 1, 2].map(function (k) {
        return Math.round(ramp[i][k] + (ramp[i + 1][k] - ramp[i][k]) * f);
    });
    return "rgb(" + c.join(",") + ")";
}

var BAR_W = 18, BAR_H = 91, BAR_ZERO = 2.5;

var colorbarPlugin = {
    id: "colorbar",
    afterDraw: function (chart, args, opts) {
        var ctx = chart.ctx;
        var x = opts.x, top = opts.y, bottom = top + BAR_H, zero = bottom - BAR_ZERO;
        var grad = ctx.createLinearGradient(0, zero, 0, top + 2);
        var s;
        for (s = 0; s <= 8; s++) {
            grad.addColorStop(s / 8, rampColor(s / 8));
        }
        ctx.save();
        ctx.fillStyle = grad;
        ctx.fillRect(x, top, BAR_W, BAR_H);
        ctx.fillStyle = "#111";
        ctx.font = "17.5px 'Liberation Sans'";
        ctx.textBaseline = "middle";
        ctx.fillText(opts.title, x, top - 17);
        ctx.font = "15.5px 'Liberation Sans'";
        opts.ticks.forEach(function (v) {
            var y = zero - v * (zero - top - 2) / opts.max;
            ctx.fillStyle = "#fff";
            ctx.fillRect(x, y - 0.5, 4, 1);
            ctx.fillRect(x + BAR_W - 4, y - 0.5, 4, 1);
            ctx.fillStyle = "#222";
            ctx.fillText(String(v), x + BAR_W + 8, y);
        });
        ctx.restore();
    }
};

function minusSign(v) {
    return String(v).replace("-", "\u2212");
}

function drawPanel(idx) {
    var page = document.getElementById("page");
    var canvas = document.createElement("canvas");
    var left = plotLeft[idx] - 60;
    var top = plotTop[idx] - 30;
    var width = barLeft[idx] + BAR_W + 34 - left;
    var height = plotHeight[idx] + 30 + 49;
    canvas.width = width;
    canvas.height = height;
    canvas.style.left = left + "px";
    canvas.style.top = top + "px";
    canvas.style.width = width + "px";
    canvas.style.height = height + "px";
    page.appendChild(canvas);

    /* underneath layers first, so the main points sit on top */
    var clusters = [c1Under, c2Under, c4Under, c5Under, c1Points, c2Points, c4Points, c5Points];
    var valueIndex = [4, 5, 6, 7, 0, 1, 2, 3];
    var maxVal = colorbarMax[idx];
    var points = [], colors = [];
    clusters.forEach(function (pts, c) {
        var vals = geneValues[idx][valueIndex[c]];
        pts.forEach(function (p, i) {
            var v = vals[i] || 0;
            points.push({x: p[0], y: p[1]});
            colors.push(rampColor(v / maxVal));
        });
    });

    function axis(title, ticks, min, max, fitSide, fitSize, titlePadding) {
        return {
            type: "linear",
            min: min,
            max: max,
            afterBuildTicks: function (scale) {
                scale.ticks = ticks.map(function (v) { return {value: v}; });
            },
            afterFit: function (scale) { scale[fitSide] = fitSize; },
            grid: {display: true, drawOnChartArea: false, drawTicks: true, tickLength: 4, color: "#000", lineWidth: 2},
            border: {display: true, color: "#000", width: 2.5},
            ticks: {
                color: "#222",
                padding: 4,
                maxRotation: 0,
                autoSkip: false,
                font: {family: "Liberation Sans", size: 15},
                callback: function (v) { return minusSign(v); }
            },
            title: {
                display: true,
                text: title,
                color: "#222",
                padding: titlePadding,
                font: {family: "Liberation Sans", size: 17.5}
            }
        };
    }

    return new Chart(canvas, {
        type: "scatter",
        data: {
            datasets: [{
                label: geneNames[idx],
                data: points,
                pointBackgroundColor: colors,
                pointBorderWidth: 0,
                pointRadius: 2.7
            }]
        },
        options: {
            responsive: false,
            animation: false,
            layout: {padding: {top: 4.5, right: width - 60 - (plotRight[idx] - plotLeft[idx]), left: 0, bottom: 0}},
            plugins: {
                legend: {display: false},
                tooltip: {enabled: false},
                title: {
                    display: true,
                    fullSize: false,
                    text: geneNames[idx],
                    color: "#111",
                    padding: {top: 0, bottom: 4.5},
                    font: {family: "Liberation Sans", size: 17.5, weight: "bold", lineHeight: 1.2}
                },
                colorbar: {
                    x: barLeft[idx] - left,
                    y: barTop[idx] - top,
                    title: geneNames[idx],
                    ticks: colorbarTicks[idx],
                    max: maxVal
                }
            },
            scales: {
                x: axis("tSNE_1", xTicks, -50, 45.7, "height", 49, {top: 0, bottom: 0}),
                y: axis("tSNE_2", yTicks, -41.9, 44.2, "width", 60, {top: 5, bottom: 0})
            }
        },
        plugins: [colorbarPlugin]
    });
}

geneNames.forEach(function (name, idx) { drawPanel(idx); });

clusterTags.forEach(function (tag, i) {
    var el = document.createElement("div");
    el.className = "tag";
    el.textContent = tag;
    el.style.left = tagLeft[i] + "px";
    el.style.top = tagTop[i] + "px";
    document.getElementById("page").appendChild(el);
});
</script>
</body>
</html>
